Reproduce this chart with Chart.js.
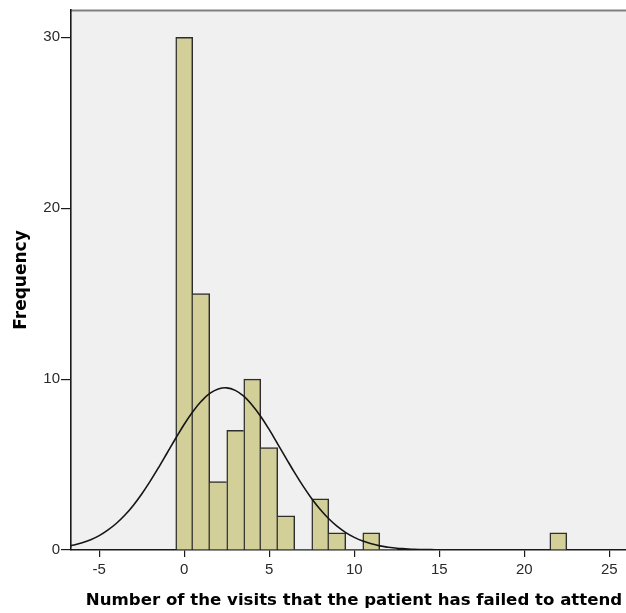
<!DOCTYPE html>
<html>
<head>
<meta charset="utf-8">
<script src="https://cdn.jsdelivr.net/npm/chart.js@4/dist/chart.umd.min.js"></script>
<style>
  html, body { margin: 0; padding: 0; background: #ffffff; }
  #c { display: block; }
</style>
</head>
<body>
<canvas id="c" width="626" height="613"></canvas>
<script>
// Histogram bins (centre of each 1-visit-wide bin) and their counts
const binCenters = [0, 1, 2, 3, 4, 5, 6, 7, 8, 9, 10, 11, 12, 13, 14, 15, 16, 17, 18, 19, 20, 21, 22];
const frequencies = [30, 15, 4, 7, 10, 6, 2, 0, 3, 1, 0, 1, 0, 0, 0, 0, 0, 0, 0, 0, 0, 0, 1];

// Normal curve overlay, sampled every half visit
const curveX = [-7, -6.5, -6, -5.5, -5, -4.5, -4, -3.5, -3, -2.5, -2, -1.5, -1, -0.5,
                0, 0.5, 1, 1.5, 2, 2.5, 3, 3.5, 4, 4.5, 5, 5.5, 6, 6.5, 7, 7.5,
                8, 8.5, 9, 9.5, 10, 10.5, 11, 11.5, 12, 12.5, 13, 13.5, 14, 14.5, 15];
const curveY = [0.19, 0.29, 0.42, 0.60, 0.84, 1.16, 1.55, 2.03, 2.61, 3.28, 4.03, 4.84, 5.69, 6.54,
                7.36, 8.09, 8.70, 9.16, 9.42, 9.49, 9.34, 9.00, 8.47, 7.81, 7.04, 6.20, 5.35, 4.51, 3.72, 3.00,
                2.37, 1.83, 1.38, 1.02, 0.74, 0.52, 0.36, 0.24, 0.16, 0.10, 0.07, 0.04, 0.03, 0.02, 0.01];

// Axis ticks and titles
const xTickValues = [-5, 0, 5, 10, 15, 20, 25];
const yTickValues = [0, 10, 20, 30];
const xTitle = 'Number of the visits that the patient has failed to attend';
const yTitle = 'Frequency';

// Grey plot panel with a thin frame line along its top
const plotBackground = {
  id: 'plotBackground',
  beforeDraw(chart) {
    const { ctx, chartArea: a } = chart;
    ctx.save();
    ctx.fillStyle = '#ffffff';
    ctx.fillRect(0, 0, chart.width, chart.height);
    ctx.fillStyle = '#f0f0f0';
    ctx.fillRect(a.left, a.top, a.right - a.left, a.bottom - a.top);
    ctx.strokeStyle = '#808080';
    ctx.lineWidth = 2;
    ctx.beginPath();
    ctx.moveTo(a.left, a.top + 0.5);
    ctx.lineTo(a.right, a.top + 0.5);
    ctx.stroke();
    ctx.restore();
  }
};

// Bold x-axis caption under the tick labels
const xAxisCaption = {
  id: 'xAxisCaption',
  afterDraw(chart) {
    const { ctx } = chart;
    ctx.save();
    ctx.font = 'bold 16.6px "DejaVu Sans", sans-serif';
    ctx.fillStyle = '#000000';
    ctx.textAlign = 'center';
    ctx.textBaseline = 'middle';
    ctx.fillText(xTitle, 354, 601);
    ctx.restore();
  }
};

// Adjacent bars share a single outline edge
function barBorder(ctx) {
  const i = ctx.dataIndex;
  const cur = frequencies[i];
  const prev = i > 0 ? frequencies[i - 1] : 0;
  const next = i < frequencies.length - 1 ? frequencies[i + 1] : 0;
  return { top: 1.5, bottom: 0, left: prev <= cur ? 1.5 : 0, right: next < cur ? 1.5 : 0 };
}

new Chart(document.getElementById('c'), {
  type: 'bar',
  data: {
    datasets: [
      {
        type: 'line',
        data: curveX.map((x, i) => ({ x: x, y: curveY[i] })),
        borderColor: '#151515',
        borderWidth: 1.6,
        pointRadius: 0,
        tension: 0.4,
        fill: false,
        order: 0
      },
      {
        type: 'bar',
        data: binCenters.map((x, i) => ({ x: x, y: frequencies[i] })),
        backgroundColor: '#d3cf98',
        borderColor: '#2e2e2e',
        borderWidth: barBorder,
        borderSkipped: false,
        categoryPercentage: 1,
        barPercentage: 1,
        order: 1
      }
    ]
  },
  options: {
    responsive: false,
    animation: false,
    devicePixelRatio: 1,
    layout: { padding: { top: 10, left: 0, right: 0, bottom: 0 } },
    plugins: { legend: { display: false }, tooltip: { enabled: false } },
    scales: {
      x: {
        type: 'linear',
        min: -6.66,
        max: 25.98,
        offset: false,
        afterBuildTicks: s => { s.ticks = xTickValues.map(v => ({ value: v })); },
        afterFit: s => { s.height = 63; },
        grid: { display: true, offset: false, drawOnChartArea: false, drawTicks: true, tickLength: 7, color: '#1a1a1a', lineWidth: 1.2 },
        border: { display: true, color: '#1a1a1a', width: 1.6 },
        ticks: {
          font: { family: '"Liberation Sans", Arial, sans-serif', size: 15 },
          color: '#2a2a2a',
          padding: 4,
          maxRotation: 0,
          autoSkip: false
        }
      },
      y: {
        type: 'linear',
        min: 0,
        max: 31.6,
        afterBuildTicks: s => { s.ticks = yTickValues.map(v => ({ value: v })); },
        afterFit: s => { s.width = 71; },
        grid: { display: true, drawOnChartArea: false, drawTicks: true, tickLength: 10, color: '#1a1a1a', lineWidth: 1.2 },
        border: { display: true, color: '#1a1a1a', width: 1.6 },
        ticks: {
          font: { family: '"Liberation Sans", Arial, sans-serif', size: 15 },
          color: '#2a2a2a',
          padding: 1
        },
        title: {
          display: true,
          text: yTitle,
          color: '#000000',
          font: { family: '"DejaVu Sans", sans-serif', size: 17, weight: 'bold' },
          padding: { top: 11, bottom: 0 }
        }
      }
    }
  },
  plugins: [plotBackground, xAxisCaption]
});
</script>
</body>
</html>
